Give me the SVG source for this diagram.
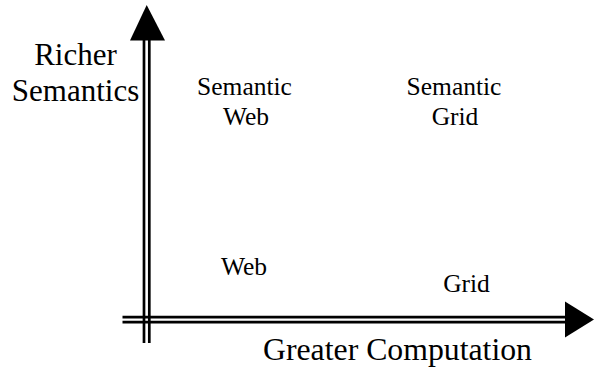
<svg xmlns="http://www.w3.org/2000/svg" width="594" height="367" viewBox="0 0 594 367">
<style>
.ax{stroke:#000;stroke-width:2.7;fill:none}
.hd{fill:#000;stroke:none}
.t{font-family:'Times New Roman','Liberation Serif',Times,serif;fill:#000}
.big{font-size:31px}
.mid{font-size:25.5px}
</style>
<rect width="594" height="367" fill="#fff"/>
<g id="connectors">
<g id="y-axis">
<line class="ax" x1="144" y1="39" x2="144" y2="343"/>
<line class="ax" x1="149.3" y1="39" x2="149.3" y2="343"/>
<polygon class="hd" points="146.7,5 165,40.5 130,40.5"/>
</g>
<g id="x-axis">
<line class="ax" x1="122.5" y1="317.2" x2="566" y2="317.2"/>
<line class="ax" x1="122.5" y1="322.2" x2="566" y2="322.2"/>
<polygon class="hd" points="594,319.5 565,301.5 565,337.5"/>
</g>
</g>
<g id="label-richer-semantics" class="t big" font-family="Liberation Serif, serif">
<text x="75.5" y="64.5" text-anchor="middle">Richer</text>
<text x="75.5" y="101" text-anchor="middle">Semantics</text>
</g>
<g id="label-greater-computation" class="t big">
<text x="263" y="360" textLength="269" lengthAdjust="spacingAndGlyphs">Greater Computation</text>
</g>
<g id="node-semantic-web" class="t mid">
<text x="244.5" y="95" text-anchor="middle">Semantic</text>
<text x="246" y="125" text-anchor="middle">Web</text>
</g>
<g id="node-semantic-grid" class="t mid">
<text x="454" y="95" text-anchor="middle">Semantic</text>
<text x="455" y="125" text-anchor="middle">Grid</text>
</g>
<g id="node-web" class="t mid">
<text x="244" y="275" text-anchor="middle">Web</text>
</g>
<g id="node-grid" class="t mid">
<text x="466.5" y="291.5" text-anchor="middle">Grid</text>
</g>
</svg>
